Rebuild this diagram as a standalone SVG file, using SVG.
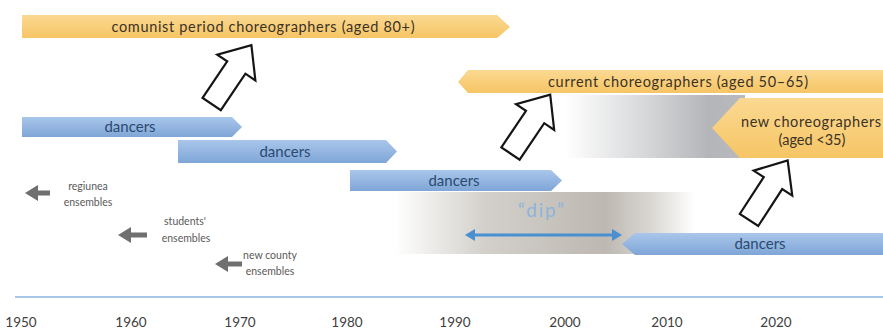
<svg xmlns="http://www.w3.org/2000/svg" width="883" height="331" viewBox="0 0 883 331">
  <style>
    .lbl { font-family: "Lato", "Liberation Sans", sans-serif; text-anchor: middle; }
    .orange { fill: url(#gOrange); }
    .blue { fill: url(#gBlue); }
    .otxt { font-size: 14.5px; fill: #3b3226; }
    .btxt { font-size: 15px; fill: #2c4a70; }
    .small { font-size: 10.5px; fill: #5a5a5a; }
    .year { font-size: 13.5px; fill: #404040; }
    .block { fill: #ffffff; stroke: #151515; stroke-width: 2.2; stroke-linejoin: miter; }
    .back { fill: #6f6f6f; }
  </style>
  <defs>
    <linearGradient id="gOrange" x1="0" y1="0" x2="0" y2="1">
      <stop offset="0" stop-color="#fbd992"/>
      <stop offset="1" stop-color="#f6c565"/>
    </linearGradient>
    <linearGradient id="gBlue" x1="0" y1="0" x2="0" y2="1">
      <stop offset="0" stop-color="#a9c6ea"/>
      <stop offset="1" stop-color="#7fa6d7"/>
    </linearGradient>
    <linearGradient id="gShadeA" x1="0" y1="0" x2="1" y2="0">
      <stop offset="0" stop-color="#ffffff"/>
      <stop offset="0.45" stop-color="#d6d7d9"/>
      <stop offset="0.8" stop-color="#b3b5b8"/>
      <stop offset="1" stop-color="#b8babd"/>
    </linearGradient>
    <linearGradient id="gShadeB" x1="0" y1="0" x2="1" y2="0">
      <stop offset="0" stop-color="#ffffff"/>
      <stop offset="0.3" stop-color="#d3d0cb"/>
      <stop offset="0.7" stop-color="#bdb8b1"/>
      <stop offset="0.85" stop-color="#d9d6d1"/>
      <stop offset="1" stop-color="#ffffff"/>
    </linearGradient>
    <marker id="tip" viewBox="0 0 10 12" markerUnits="userSpaceOnUse" markerWidth="10" markerHeight="12" refX="4" refY="6" orient="auto-start-reverse">
      <path d="M0,0 L10,6 L0,12 z" fill="#4a8fd0"/>
    </marker>
    <!-- hollow block arrow, tail centre at origin, pointing up -->
    <path id="block" d="M-11,0 L-11,-44 L-23,-44 L0,-71 L23,-44 L11,-44 L11,0 Z"/>
  </defs>

  <rect width="883" height="331" fill="#ffffff"/>

  <!-- shaded gap bands -->
  <rect x="565" y="95" width="180" height="63" fill="url(#gShadeA)"/>
  <rect x="395" y="192" width="300" height="62" fill="url(#gShadeB)"/>

  <!-- time axis -->
  <g id="axis">
    <line x1="15" y1="297" x2="883" y2="297" stroke="#a6c7e8" stroke-width="2.2"/>
    <text class="lbl year" x="21" y="327">1950</text>
    <text class="lbl year" x="131" y="327">1960</text>
    <text class="lbl year" x="240" y="327">1970</text>
    <text class="lbl year" x="347" y="327">1980</text>
    <text class="lbl year" x="455" y="327">1990</text>
    <text class="lbl year" x="565" y="327">2000</text>
    <text class="lbl year" x="667" y="327">2010</text>
    <text class="lbl year" x="776" y="327">2020</text>
  </g>

  <g id="communist-choreographers">
    <polygon class="orange" points="22,15 497,15 510,27 497,38 22,38"/>
    <text class="lbl otxt" x="263" y="32" textLength="303">comunist period choreographers (aged 80+)</text>
  </g>

  <g id="current-choreographers">
    <polygon class="orange" points="458,82 468,70 883,70 883,93 468,93"/>
    <text class="lbl otxt" x="678" y="87" textLength="260">current choreographers (aged 50–65)</text>
  </g>

  <g id="new-choreographers">
    <polygon class="orange" points="712,128 740,98 883,98 883,158 740,158"/>
    <text class="lbl otxt" x="811" y="127" textLength="140">new choreographers</text>
    <text class="lbl otxt" x="812" y="145">(aged &lt;35)</text>
  </g>

  <g id="dancers-1">
    <polygon class="blue" points="22,117 232,117 242,127 232,137 22,137"/>
    <text class="lbl btxt" x="130" y="132">dancers</text>
  </g>
  <g id="dancers-2">
    <polygon class="blue" points="178,140 386,140 397,151.5 386,163 178,163"/>
    <text class="lbl btxt" x="285" y="157">dancers</text>
  </g>
  <g id="dancers-3">
    <polygon class="blue" points="350,170 551,170 562,180.5 551,191 350,191"/>
    <text class="lbl btxt" x="454" y="186">dancers</text>
  </g>
  <g id="dancers-4">
    <polygon class="blue" points="622,244 635,233 883,233 883,255 635,255"/>
    <text class="lbl btxt" x="760" y="249">dancers</text>
  </g>

  <g id="regional-ensembles">
    <text class="lbl small" x="88" y="190">regiunea</text>
    <text class="lbl small" x="88" y="206">ensembles</text>
  </g>
  <g id="students-ensembles">
    <text class="lbl small" x="185" y="225">students'</text>
    <text class="lbl small" x="186" y="242">ensembles</text>
  </g>
  <g id="county-ensembles">
    <text class="lbl small" x="270" y="259">new county</text>
    <text class="lbl small" x="270" y="275">ensembles</text>
  </g>

  <g id="dip">
    <text class="lbl" x="541" y="217" font-size="19" fill="#8cb4dc" textLength="46">“dip”</text>
  </g>

  <g id="connectors">
    <!-- transitions from dancers to choreographers -->
    <use href="#block" class="block" transform="translate(211.7,104) rotate(34)"/>
    <use href="#block" class="block" transform="translate(510.5,153.5) rotate(34)"/>
    <use href="#block" class="block" transform="translate(749,220) rotate(33)"/>
    <!-- ensembles reaching back in time -->
    <polygon class="back" points="25,193 38,185 38,190.5 50,190.5 50,195.5 38,195.5 38,201"/>
    <polygon class="back" points="118,235 131,227 131,232.5 147,232.5 147,237.5 131,237.5 131,243"/>
    <polygon class="back" points="215,264 228,256 228,261.5 242,261.5 242,266.5 228,266.5 228,272"/>
    <!-- the dip span -->
    <line x1="471" y1="235" x2="616" y2="235" stroke="#4a8fd0" stroke-width="3" marker-start="url(#tip)" marker-end="url(#tip)"/>
  </g>
</svg>
